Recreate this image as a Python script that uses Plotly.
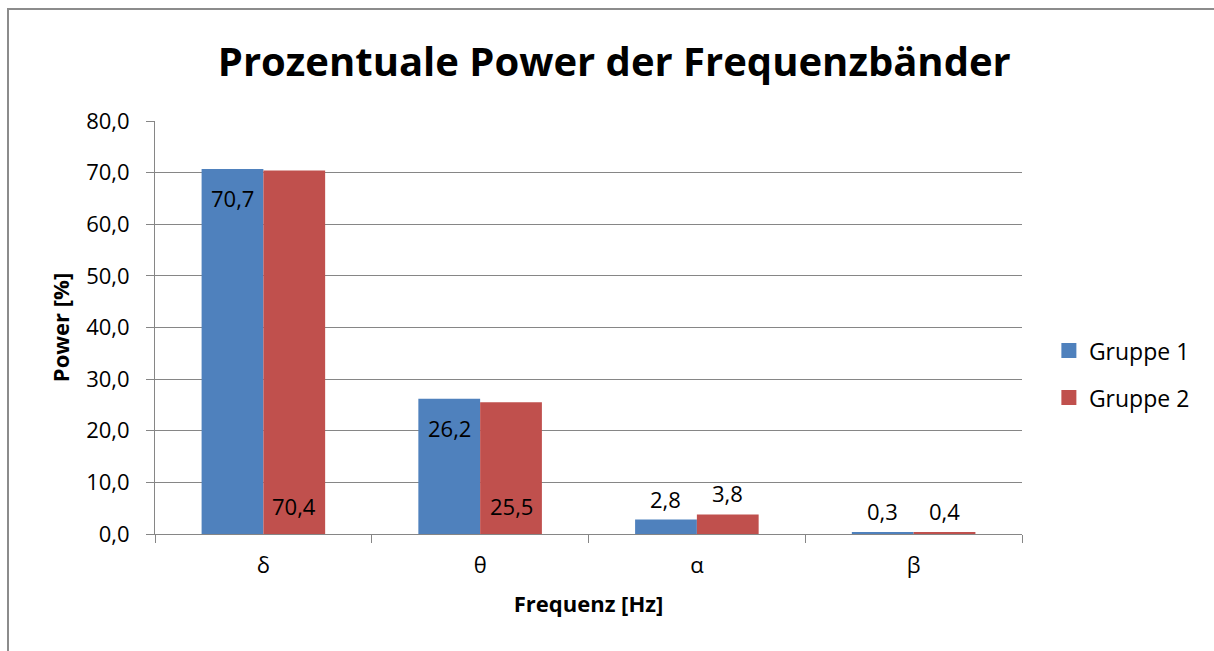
import plotly.graph_objects as go

categories = ["δ", "θ", "α", "β"]
gruppe1 = [70.7, 26.2, 2.8, 0.3]
gruppe2 = [70.4, 25.5, 3.8, 0.4]
y_ticks = [0, 10, 20, 30, 40, 50, 60, 70, 80]

FONT = "'Open Sans', 'Noto Sans', sans-serif"
BLUE = "#4F81BD"
RED = "#C0504D"
GRID = "#868686"
LABEL_SIZE = 22

fig = go.Figure()
for name, vals, color, grp in [("Gruppe 1", gruppe1, BLUE, "g1"),
                               ("Gruppe 2", gruppe2, RED, "g2")]:
    fig.add_trace(go.Bar(x=categories, y=vals, name=name, marker_color=color,
                         marker_line_width=0, showlegend=False, legendgroup=grp))
for name, color, grp in [("Gruppe 1", BLUE, "g1"), ("Gruppe 2", RED, "g2")]:
    fig.add_trace(go.Scatter(x=[None], y=[None], mode="markers", name=name,
                             legendgroup=grp,
                             marker=dict(symbol="square", size=15, color=color)))

# data labels (Excel style: G1 inside end, G2 inside base, small ones outside end)
annotations = []
for series, vals, xs in [(1, gruppe1, -31), (2, gruppe2, 31)]:
    for cat, v in zip(categories, vals):
        txt = f"{v:.1f}".replace(".", ",")
        if v > 10:
            if series == 1:
                y, ys = v, -29
            else:
                y, ys = 0, 28
        else:
            y, ys = v, 21
        annotations.append(dict(x=cat, y=y, xref="x", yref="y", text=txt,
                                showarrow=False, xshift=xs, yshift=ys,
                                font=dict(size=LABEL_SIZE, family=FONT, color="black"),
                                xanchor="center", yanchor="middle"))

fig.update_layout(
    width=1214, height=651,
    separators=",.",
    paper_bgcolor="white", plot_bgcolor="white",
    font=dict(family=FONT, size=22, color="black"),
    margin=dict(l=155, r=192, t=121, b=117),
    barmode="group", bargap=0.43, bargroupgap=0,
    title=dict(text="<b>Prozentuale Power der Frequenzbänder</b>",
               x=0.506, xref="container", xanchor="center",
               y=0.905, yref="container", yanchor="middle",
               font=dict(size=40, family=FONT, color="black")),
    legend=dict(x=1.031, xanchor="left", y=0.387, yanchor="middle",
                font=dict(size=23, family=FONT), tracegroupgap=14,
                itemwidth=30, bgcolor="rgba(0,0,0,0)"),
    xaxis=dict(
        showline=True, linecolor=GRID, linewidth=1,
        ticks="outside", tickson="boundaries", ticklen=8, tickcolor=GRID,
        tickfont=dict(size=22), showgrid=False, ticklabelstandoff=12,
        title=dict(text="<b>Frequenz [Hz]</b>", font=dict(size=22), standoff=18),
    ),
    yaxis=dict(
        range=[0, 80], tickvals=y_ticks, tickformat=".1f",
        showline=True, linecolor=GRID, linewidth=1,
        ticks="outside", ticklen=8, tickcolor=GRID, ticklabelstandoff=12,
        showgrid=True, gridcolor=GRID, gridwidth=1, zeroline=False,
        tickfont=dict(size=22),
        title=dict(text="<b>Power [%]</b>", font=dict(size=22), standoff=10),
    ),
    annotations=annotations,
    shapes=[dict(type="rect", xref="paper", yref="paper",
                 x0=(8 - 155) / 867, x1=(1230 - 155) / 867,
                 y0=(534 - 670) / 413, y1=(534 - 9) / 413,
                 line=dict(color="#8c8c8c", width=2), fillcolor="rgba(0,0,0,0)",
                 layer="below")],
)

fig.write_html("out.html", config={"displayModeBar": False},
               post_script="document.body.style.margin='0';")
